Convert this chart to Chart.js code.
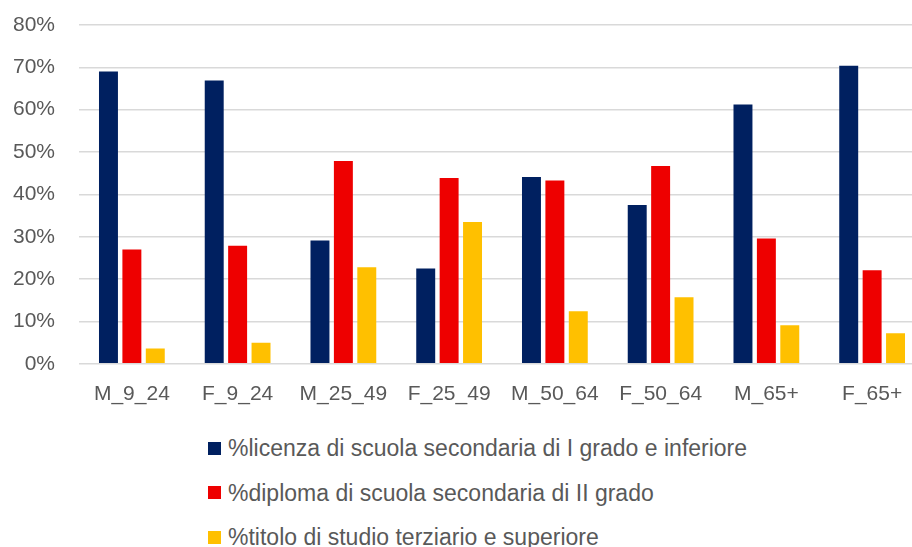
<!DOCTYPE html>
<html>
<head>
<meta charset="utf-8">
<script src="https://cdn.jsdelivr.net/npm/chart.js@4.4.1/dist/chart.umd.min.js"></script>
<style>
  html, body { margin: 0; padding: 0; background: #fff; overflow: hidden; }
  #wrap { position: absolute; left: 0; top: 0; width: 925px; height: 425px; }
  #legend { position: absolute; left: 208px; top: 435px; font-family: "Liberation Sans", Arial, sans-serif; font-size: 23px; line-height: 26px; color: #595959; }
  #legend div { height: 44.5px; display: flex; align-items: flex-start; white-space: nowrap; }
  #legend span.box { display: inline-block; width: 13px; height: 13px; margin: 6.5px 7px 0 0; }
</style>
</head>
<body>
<div id="wrap"><canvas id="chart"></canvas></div>
<div id="legend"></div>
<script>

const categories = ["M_9_24", "F_9_24", "M_25_49", "F_25_49", "M_50_64", "F_50_64", "M_65+", "F_65+"];

const seriesNames = [
    "%licenza di scuola secondaria di I grado e inferiore",
    "%diploma di scuola secondaria di II grado",
    "%titolo di studio terziario e superiore"
];

// values in %
const licenza  = [69.0, 66.9, 29.1, 22.5, 44.1, 37.5, 61.2, 70.4];
const diploma  = [27.0, 27.9, 47.9, 43.9, 43.3, 46.7, 29.6, 22.1];
const terziario = [3.6, 5.0, 22.8, 33.5, 12.4, 15.7, 9.1, 7.2];

const colors = ["#002060", "#EE0000", "#FFC000"];

const yTicks = [0, 10, 20, 30, 40, 50, 60, 70, 80];

const gray = "#595959";
const font = { family: "'Liberation Sans', Arial, sans-serif", size: 21 };

const ctx = document.getElementById("chart").getContext("2d");

const chart = new Chart(ctx, {
    type: "bar",
    data: {
        labels: categories,
        datasets: [licenza, diploma, terziario].map((d, i) => ({
            label: seriesNames[i],
            data: d,
            backgroundColor: colors[i],
            borderWidth: 0,
            categoryPercentage: 0.664,
            barPercentage: 0.81
        }))
    },
    options: {
        responsive: true,
        maintainAspectRatio: false,
        animation: false,
        layout: { padding: { top: 25, left: 0, right: 0, bottom: 0 } },
        plugins: {
            legend: { display: false },
            tooltip: { enabled: false }
        },
        scales: {
            x: {
                grid: { display: false, drawTicks: false },
                border: { display: false },
                ticks: { color: gray, font: font, padding: 18, maxRotation: 0 }
            },
            y: {
                min: 0,
                max: 80,
                afterFit: s => {
                    s.width = 79;
                    s.paddingTop = 0;     // tick padding would otherwise push the plot down
                    s.paddingBottom = 0;
                },
                afterBuildTicks: s => { s.ticks = yTicks.map(v => ({ value: v })); },
                grid: { color: "#d9d9d9", lineWidth: 1.5, drawTicks: false },
                border: { display: false },
                ticks: {
                    color: gray,
                    font: font,
                    padding: 24,
                    callback: v => v + "%"
                }
            }
        }
    }
});

// legend as vertical list under the chart
const legendBox = document.getElementById("legend");
chart.data.datasets.forEach(ds => {
    const row = document.createElement("div");
    row.innerHTML = '<span class="box" style="background:' + ds.backgroundColor + '"></span>' + ds.label;
    legendBox.appendChild(row);
});

</script>
</body>
</html>
